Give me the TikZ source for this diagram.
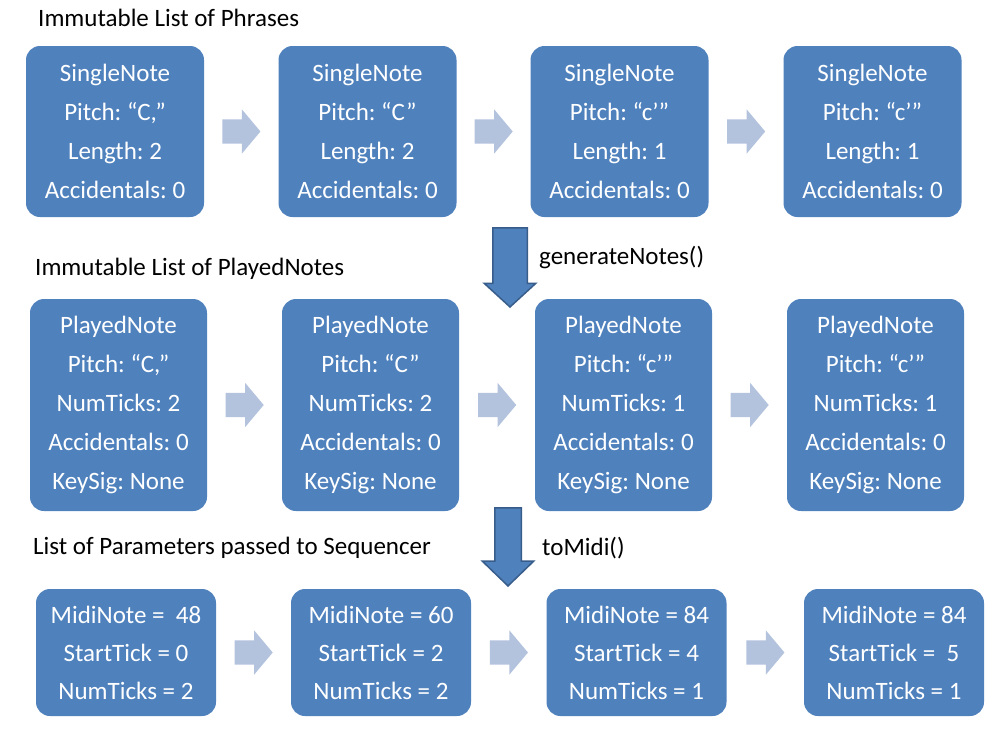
\documentclass[tikz,border=0pt]{standalone}
\usepackage{fontspec}
\setmainfont{Carlito}
\frenchspacing
\usetikzlibrary{shapes.arrows,calc}
\definecolor{boxblue}{HTML}{4F81BD}
\definecolor{arrowlight}{HTML}{B3C3DE}
\definecolor{arrowedge}{HTML}{385D8A}
\begin{document}
\begin{tikzpicture}[x=1pt,y=-1pt,
  note/.style={fill=boxblue, rounded corners=14pt, text=white, align=center, inner sep=0pt},
  rowa/.style={note, minimum width=178pt, minimum height=171pt, font=\fontsize{25}{39}\selectfont},
  rowb/.style={note, minimum width=177pt, minimum height=212pt, font=\fontsize{25}{39}\selectfont},
  rowc/.style={note, minimum width=180pt, minimum height=127pt, font=\fontsize{25}{38}\selectfont},
  harrow/.style={single arrow, fill=arrowlight, draw=none, inner xsep=0pt, inner ysep=12pt,
    single arrow head extend=10pt, single arrow tip angle=100, minimum height=38pt, minimum width=0pt, anchor=tail},
  varrow/.style={single arrow, fill=boxblue, draw=arrowedge, line width=1.5pt, rotate=-90,
    inner xsep=0pt, minimum width=0pt, anchor=tip},
  title/.style={anchor=west, inner sep=0pt, font=\fontsize{25}{30}\selectfont}
]
\useasboundingbox[fill=white] (0,0) rectangle (993,737);

% titles
\node[title] (t1) at (38,18) {Immutable List of Phrases};
\node[title] (t2) at (35,269) {Immutable List of PlayedNotes};
\node[title] (t3) at (33,548) {List of Parameters passed to Sequencer};
\node[title] (g1) at (539,257) {generateNotes()};
\node[title] (g2) at (542,548) {toMidi()};

% row 1
\node[rowa] (a1) at (115,131.5) {SingleNote\\Pitch: “C,”\\Length: 2\\Accidentals: 0};
\node[rowa] (a2) at (367.5,131.5) {SingleNote\\Pitch: “C”\\Length: 2\\Accidentals: 0};
\node[rowa] (a3) at (619.5,131.5) {SingleNote\\Pitch: “c’”\\Length: 1\\Accidentals: 0};
\node[rowa] (a4) at (872.5,131.5) {SingleNote\\Pitch: “c’”\\Length: 1\\Accidentals: 0};

% row 2
\node[rowb] (b1) at (118.5,405) {PlayedNote\\Pitch: “C,”\\NumTicks: 2\\Accidentals: 0\\KeySig: None};
\node[rowb] (b2) at (370.5,405) {PlayedNote\\Pitch: “C”\\NumTicks: 2\\Accidentals: 0\\KeySig: None};
\node[rowb] (b3) at (623.5,405) {PlayedNote\\Pitch: “c’”\\NumTicks: 1\\Accidentals: 0\\KeySig: None};
\node[rowb] (b4) at (875.5,405) {PlayedNote\\Pitch: “c’”\\NumTicks: 1\\Accidentals: 0\\KeySig: None};

% row 3
\node[rowc] (c1) at (126,652.5) {MidiNote = \ 48\\StartTick = 0\\NumTicks = 2};
\node[rowc] (c2) at (381,652.5) {MidiNote = 60\\StartTick = 2\\NumTicks = 2};
\node[rowc] (c3) at (636.5,652.5) {MidiNote = 84\\StartTick = 4\\NumTicks = 1};
\node[rowc] (c4) at (894,652.5) {MidiNote = 84\\StartTick = \ 5\\NumTicks = 1};

% horizontal block arrows
\foreach \r in {a,b,c}{
  \node[harrow] (\r h1) at ($(\r1.east)!0.5!(\r2.west)+(-19,0)$) {};
  \node[harrow] (\r h2) at ($(\r2.east)!0.5!(\r3.west)+(-19,0)$) {};
  \node[harrow] (\r h3) at ($(\r3.east)!0.5!(\r4.west)+(-19,0)$) {};
}

% vertical block arrows
\node[varrow, inner ysep=16.5pt, single arrow head extend=8.5pt, single arrow tip angle=95, minimum height=79pt] (v1) at (510,308) {};
\node[varrow, inner ysep=12.5pt, single arrow head extend=12.5pt, single arrow tip angle=92, minimum height=78pt] (v2) at (508,587) {};
\end{tikzpicture}
\end{document}
